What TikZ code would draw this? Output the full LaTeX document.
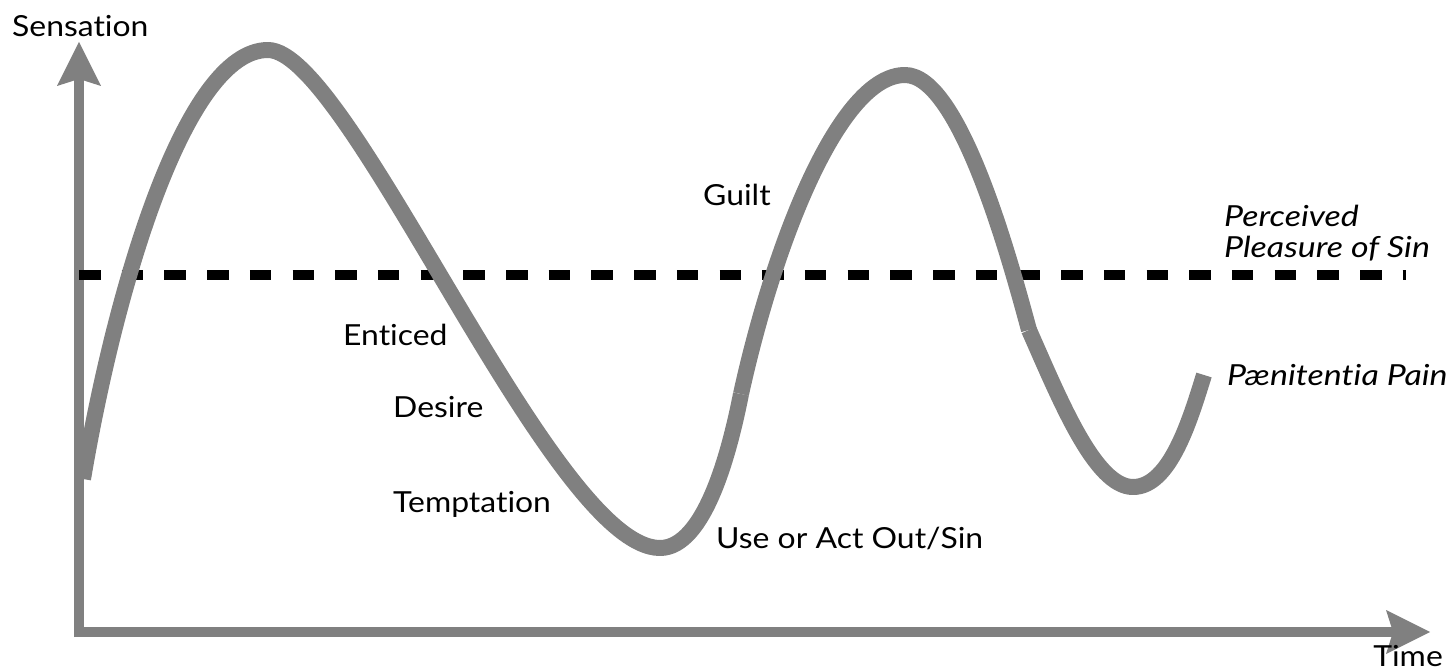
\documentclass[tikz,border=0pt]{standalone}
\usepackage{fontspec}
\setmainfont{Lato}[Ligatures={NoCommon}, FakeStretch=1.1,
  ItalicFeatures={FakeStretch=1.17}]
\usetikzlibrary{arrows.meta}
\definecolor{curvegray}{RGB}{128,128,128}
\tikzset{
  axisline/.style={draw=curvegray, line width=10.7pt,
    -{Stealth[length=44pt,width=44pt,inset=7pt,line width=0pt,fill=curvegray]}},
  wave/.style={draw=curvegray, line width=16pt, line cap=butt, line join=round},
  pleasure/.style={draw=black, line width=10pt, dash pattern=on 21.5pt off 21.2pt},
  lbl/.style={inner sep=0pt, anchor=base west, font=\fontsize{29}{34}\selectfont},
  ilbl/.style={lbl, font=\fontsize{29}{34}\selectfont\itshape}
}
\begin{document}
\begin{tikzpicture}[x=1pt,y=-1pt]
\useasboundingbox (0,0) rectangle (1449,671);
% axes
\coordinate (ybot) at (79,637);
\coordinate (ytop) at (79,42);
\coordinate (xleft) at (74,632);
\coordinate (xright) at (1430,632);
\draw[axisline] (ybot) -- (ytop);
\draw[axisline] (xleft) -- (xright);
% perceived pleasure line
\coordinate (dl) at (79,275);
\coordinate (dr) at (1406,275);
\draw[pleasure] (dl) -- (dr);
% wave
\coordinate (w0) at (83,479);
\coordinate (p1) at (268,50);
\coordinate (t1) at (660,548);
\coordinate (k1) at (741,394);
\coordinate (p2) at (905,75);
\coordinate (k2) at (1029,330);
\coordinate (t2) at (1133,487);
\coordinate (w1) at (1204,375);
\draw[wave] (w0) .. controls (115,290) and (185,50) .. (p1)
  .. controls (350,50) and (552,548) .. (t1)
  .. controls (705,548) and (730,450) .. (k1);
\draw[wave] (k1) .. controls (775,240) and (840,75) .. (p2)
  .. controls (960,75) and (1010,260) .. (k2);
\draw[wave] (k2) .. controls (1060,400) and (1095,487) .. (t2)
  .. controls (1170,487) and (1190,420) .. (w1);
% labels
\node[lbl] (sens) at (12,37) {Sensation};
\node[lbl, anchor=base east] (time) at (1443,666) {Time};
\node[lbl] (guilt) at (703,206) {Guilt};
\node[ilbl] (perc) at (1224,227) {Perceived};
\node[ilbl] (pleas) at (1224,258) {Pleasure of Sin};
\node[ilbl] (paen) at (1227,385) {Pænitentia Pain};
\node[lbl] (ent) at (343,345) {Enticed};
\node[lbl] (des) at (393,417) {Desire};
\node[lbl] (temp) at (393,512) {Temptation};
\node[lbl] (use) at (716,548) {Use or Act Out/Sin};
\end{tikzpicture}
\end{document}
